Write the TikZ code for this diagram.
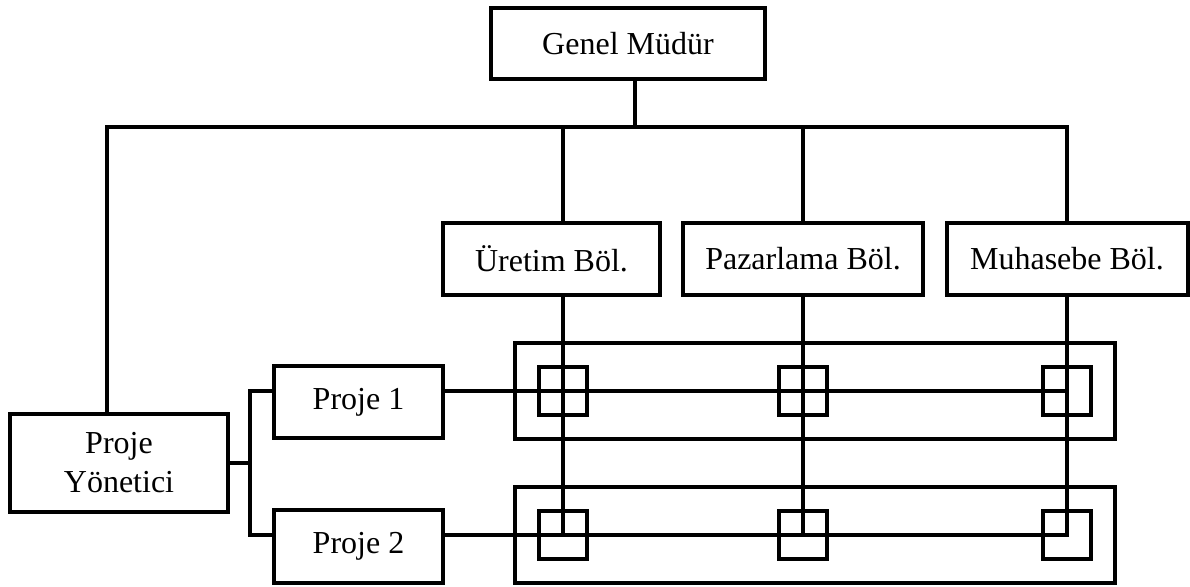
\documentclass[tikz,border=0pt]{standalone}
\usepackage{fontspec}
\setmainfont{Liberation Serif}
\begin{document}
\begin{tikzpicture}[x=0.5pt,y=-0.5pt,
  box/.style={draw,line width=2pt,inner sep=0pt,align=center,
    font=\fontsize{16}{19.5}\selectfont},
  frame/.style={draw,line width=2pt,inner sep=0pt,minimum width=300pt,minimum height=48pt},
  cell/.style={draw,line width=1.8pt,inner sep=0pt,minimum size=24pt},
  wire/.style={line width=1.8pt,line join=miter}]
\useasboundingbox (0,0) rectangle (1190,587);

% management boxes
\node[box,minimum width=137pt,minimum height=35.5pt] (gm) at (628,43.5) {Genel Müdür};
\node[box,minimum width=108.5pt,minimum height=36pt] (ur) at (551.5,259) {Üretim Böl.};
\node[box,minimum width=120pt,minimum height=36pt] (pz) at (803,259) {Pazarlama Böl.};
\node[box,minimum width=120.5pt,minimum height=36pt] (mu) at (1067,259) {Muhasebe Böl.};
\node[box,minimum width=109pt,minimum height=49pt] (py) at (119,463) {Proje\\Yönetici};
\node[box,minimum width=84.5pt,minimum height=36pt] (p1) at (358.5,402) {Proje 1};
\node[box,minimum width=84.5pt,minimum height=36.5pt] (p2) at (358.5,546.5) {Proje 2};

% project frames and matrix cells
\node[frame] (f1) at (815,391) {};
\node[frame] (f2) at (815,535) {};
\foreach \r/\y in {1/391,2/535}{
  \node[cell] (c\r a) at (563,\y) {};
  \node[cell] (c\r b) at (803,\y) {};
  \node[cell] (c\r c) at (1067,\y) {};
}

% junction points
\coordinate (busL) at (107,127);
\coordinate (busR) at (1067,127);
\coordinate (gmj) at (635,127);
\coordinate (urj) at (563,127);
\coordinate (pzj) at (803,127);
\coordinate (r1) at (1067,391);
\coordinate (r2) at (1067,535);
\coordinate (br) at (250,463);

% top bus with its two corner drops
\draw[wire] (busL |- py.north) -- (busL) -- (busR) -- (mu.north);
\draw[wire] (gmj |- gm.south) -- (gmj);
\draw[wire] (urj) -- (urj |- ur.north);
\draw[wire] (pzj) -- (pzj |- pz.north);

% department lines through the project rows
\draw[wire] (urj |- ur.south) -- (urj |- r2);
\draw[wire] (pzj |- pz.south) -- (pzj |- r2);
\draw[wire] (mu.south) -- (r2) -- (p2.east |- r2);

% project manager branch
\draw[wire] (py.east) -- (br);
\draw[wire] (p1.west |- r1) -- (br |- r1) -- (br |- r2) -- (p2.west |- r2);

% first project row
\draw[wire] (p1.east |- r1) -- (r1);
\end{tikzpicture}
\end{document}
